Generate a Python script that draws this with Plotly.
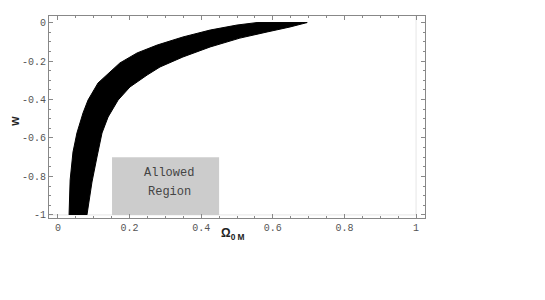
import plotly.graph_objects as go

# Outer (upper-left) boundary of the allowed band
outer_x = [0.031, 0.034, 0.042, 0.053, 0.070, 0.084, 0.112, 0.145, 0.173, 0.221, 0.277, 0.349, 0.425, 0.500, 0.556]
outer_w = [-1.0, -0.818, -0.673, -0.574, -0.470, -0.403, -0.314, -0.257, -0.210, -0.158, -0.117, -0.075, -0.039, -0.013, 0.0]
# Inner (lower-right) boundary of the allowed band
inner_x = [0.081, 0.095, 0.109, 0.123, 0.140, 0.168, 0.201, 0.249, 0.285, 0.349, 0.425, 0.508, 0.584, 0.648, 0.696]
inner_w = [-1.0, -0.829, -0.699, -0.574, -0.491, -0.403, -0.335, -0.273, -0.231, -0.179, -0.127, -0.081, -0.049, -0.023, 0.0]

# Legend box
box_x = [0.151, 0.450]
box_w = [-1.0, -0.70]
box_lines = ["Allowed", "Region"]

x_ticks = [0, 0.2, 0.4, 0.6, 0.8, 1]
x_labels = ["0", "0.2", "0.4", "0.6", "0.8", "1"]
y_ticks = [0, -0.2, -0.4, -0.6, -0.8, -1]
y_labels = ["0", "-0.2", "-0.4", "-0.6", "-0.8", "-1"]

fig = go.Figure()

fig.add_trace(go.Scatter(
    x=outer_x + inner_x[::-1], y=outer_w + inner_w[::-1],
    fill="toself", fillcolor="black", mode="lines",
    line=dict(color="black", width=1), hoverinfo="skip", showlegend=False))

fig.add_trace(go.Scatter(
    x=[box_x[0], box_x[1], box_x[1], box_x[0], box_x[0]],
    y=[box_w[0], box_w[0], box_w[1], box_w[1], box_w[0]],
    fill="toself", fillcolor="#cccccc", mode="lines",
    line=dict(color="#cccccc", width=0), hoverinfo="skip", showlegend=False))

# light boundary lines of the plotted region
fig.add_shape(type="line", x0=1, x1=1, y0=-1, y1=0.034, line=dict(color="#e6e6e6", width=1), layer="below")
fig.add_shape(type="line", x0=-0.025, x1=1, y0=-1, y1=-1, line=dict(color="#e6e6e6", width=1), layer="below")

mono = "Liberation Mono"
fig.add_annotation(x=(box_x[0] + box_x[1]) / 2 + 0.01, y=-0.78, text=box_lines[0], showarrow=False,
                   font=dict(family=mono, size=12, color="#444"))
fig.add_annotation(x=(box_x[0] + box_x[1]) / 2 + 0.012, y=-0.88, text=box_lines[1], showarrow=False,
                   font=dict(family=mono, size=12, color="#444"))

fig.add_annotation(xref="x", yref="paper", x=0.489, y=-0.03, yanchor="top", text="<b>Ω<sub>0 M</sub></b>",
                   showarrow=False, font=dict(family="Liberation Sans", size=12, color="#222"))
fig.add_annotation(xref="paper", yref="paper", x=-0.115, y=0.48, text="<b>w</b>", textangle=-90,
                   showarrow=False, font=dict(family="Liberation Sans", size=12, color="#222"))

axis_common = dict(showline=True, linecolor="#888", linewidth=1, mirror="ticks", automargin=False,
                   ticks="inside", ticklen=4, tickcolor="#888", showgrid=False, zeroline=False,
                   tickfont=dict(family=mono, size=10, color="#555"))

fig.update_xaxes(range=[-0.025, 1.025], tickvals=x_ticks, ticktext=x_labels,
                 minor=dict(ticks="inside", ticklen=2, tickcolor="#888", dtick=0.05), **axis_common)
fig.update_yaxes(range=[-1.016, 0.034], tickvals=y_ticks, ticktext=y_labels,
                 minor=dict(ticks="inside", ticklen=2, tickcolor="#888", dtick=0.05), **axis_common)

fig.update_layout(width=545, height=300, margin=dict(l=41, r=128, t=8, b=90, autoexpand=False),
                  plot_bgcolor="white", paper_bgcolor="white", showlegend=False)

fig.write_html("out.html")
